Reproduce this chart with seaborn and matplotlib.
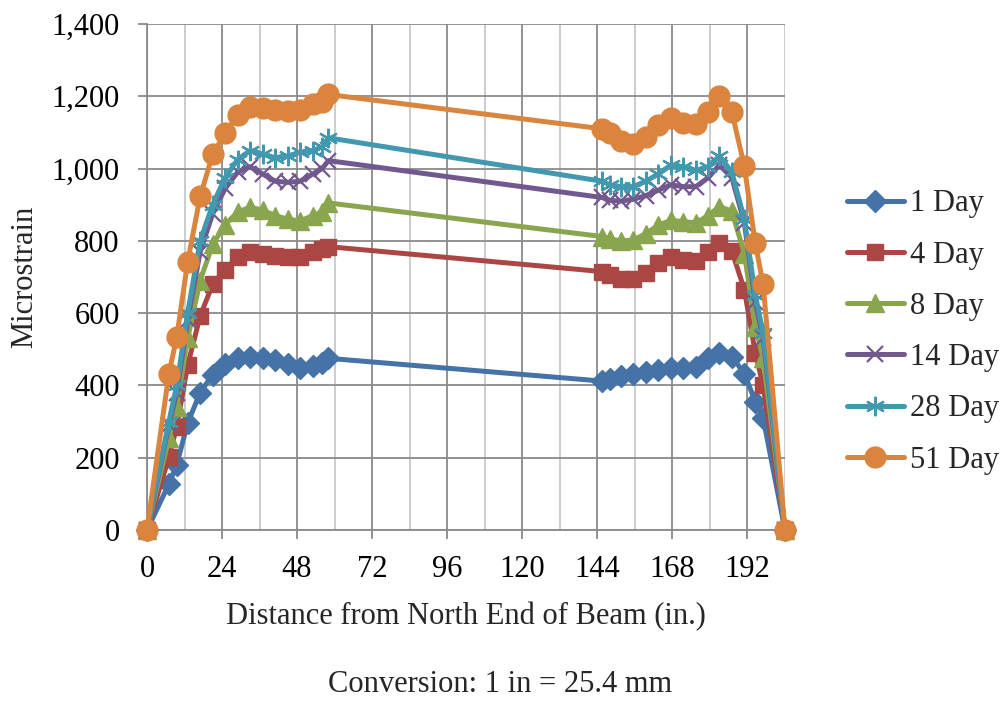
import matplotlib
matplotlib.use("Agg")
import matplotlib.pyplot as plt
import matplotlib.ticker as mticker
import seaborn as sns
import pandas as pd
import numpy as np

# ---------------- data ----------------
x_left = [0, 7, 9.5, 13, 17, 21, 25, 29, 33, 37, 41, 45, 49, 53, 56, 58]
x_right = [145.5, 148, 151.5, 155.5, 159.5, 163.5, 167.5, 171.5, 175.5,
           179.5, 183, 187, 191, 194.5, 197, 204]
distance = x_left + x_right

day1 = [0, 127, 180, 296, 380, 430, 460, 475, 478, 475, 470, 458, 448, 455, 462, 475,
        412, 417, 425, 432, 438, 443, 447, 448, 452, 475, 490, 480, 433, 355, 310, 0]
day4 = [0, 201, 286, 456, 592, 680, 720, 756, 768, 765, 758, 755, 756, 768, 778, 784,
        715, 705, 695, 695, 710, 740, 755, 748, 745, 770, 795, 772, 665, 490, 400, 0]
day8 = [0, 255, 340, 530, 690, 790, 845, 880, 893, 885, 870, 860, 855, 870, 880, 905,
        812, 805, 800, 802, 820, 843, 857, 853, 850, 870, 895, 882, 765, 563, 475, 0]
day14 = [0, 290, 380, 580, 770, 875, 945, 990, 1005, 985, 965, 962, 965, 985, 1000, 1022,
         920, 912, 910, 915, 925, 940, 955, 950, 950, 975, 1010, 975, 850, 630, 530, 0]
day28 = [0, 300, 400, 600, 800, 900, 975, 1025, 1050, 1040, 1030, 1035, 1045, 1050, 1060, 1085,
         965, 955, 950, 950, 965, 985, 1010, 1005, 995, 1005, 1035, 990, 860, 650, 545, 0]
day51 = [0, 433, 533, 742, 923, 1039, 1099, 1147, 1170, 1168, 1163, 1160, 1162, 1180, 1185, 1205,
         1110, 1098, 1076, 1069, 1086, 1120, 1140, 1126, 1123, 1157, 1200, 1157, 1006, 793, 680, 0]

series_names = ["1 Day", "4 Day", "8 Day", "14 Day", "28 Day", "51 Day"]
series_values = [day1, day4, day8, day14, day28, day51]

x_ticks = [0, 24, 48, 72, 96, 120, 144, 168, 192]
y_ticks = [0, 200, 400, 600, 800, 1000, 1200, 1400]

# ---------------- style ----------------
colors = ["#4572A7", "#AA4643", "#89A54E", "#71588F", "#4198AF", "#DB843D"]
markers = ["D", "s", "^", "x", (6, 2, 0), "o"]
msizes = [11, 12, 13, 12, 14, 15]
mews = [1, 1, 1, 1.6, 1.6, 1]
FS = 22

sns.set_theme(style="white")
plt.rcParams["font.family"] = ["Liberation Serif", "DejaVu Serif"]

fig = plt.figure(figsize=(10.05, 7.09), dpi=100)
ax = fig.add_axes([147 / 1005, 1 - 530 / 709, (785 - 147) / 1005, (530 - 24) / 709])

df = pd.DataFrame({"distance": distance})
for name, vals in zip(series_names, series_values):
    df[name] = vals

for i, name in enumerate(series_names):
    sns.lineplot(data=df, x="distance", y=name, ax=ax, color=colors[i],
                 linewidth=3.6, marker=markers[i], markersize=msizes[i],
                 markeredgecolor=colors[i], markerfacecolor=colors[i],
                 markeredgewidth=mews[i], label=name, sort=False,
                 zorder=3 + i, clip_on=False)

ax.set_xlim(0, 204)
ax.set_ylim(0, 1400)
ax.set_xticks(x_ticks)
ax.xaxis.set_minor_locator(mticker.MultipleLocator(12))
ax.set_yticks(y_ticks)
ax.yaxis.set_major_formatter(mticker.StrMethodFormatter("{x:,.0f}"))

ax.grid(True, which="major", axis="both", color="#8a8a8a", linewidth=1.3)
ax.grid(True, which="minor", axis="x", color="#c8c8c8", linewidth=1.3)
ax.set_axisbelow(True)

for side in ["top", "right"]:
    ax.spines[side].set_visible(False)
for side in ["left", "bottom"]:
    ax.spines[side].set_color("#8a8a8a")
    ax.spines[side].set_linewidth(1.3)

ax.tick_params(axis="both", which="major", direction="out", length=6.7, width=1.3,
               color="#8a8a8a", labelsize=FS, labelcolor="black")
ax.tick_params(axis="x", which="major", pad=11.5)
ax.tick_params(axis="y", which="major", pad=13)
ax.tick_params(axis="x", which="minor", length=0)
ax.tick_params(axis="y", left=True)
ax.tick_params(axis="x", bottom=True)

ax.set_xlabel("Distance from North End of Beam (in.)", fontsize=FS, labelpad=12.5)
ax.set_ylabel("Microstrain", fontsize=FS, labelpad=9)

fig.text(500 / 1005, 1 - 685 / 709, "Conversion: 1 in = 25.4 mm", fontsize=FS,
         ha="center", va="center")

leg = ax.legend(loc="center left", bbox_to_anchor=(847 / 1005, 1 - 332 / 709),
                bbox_transform=fig.transFigure, frameon=False, fontsize=FS,
                borderpad=0, borderaxespad=0, handlelength=1.85,
                handletextpad=0.2, labelspacing=0.73)

fig.savefig("out.png", dpi=100)
